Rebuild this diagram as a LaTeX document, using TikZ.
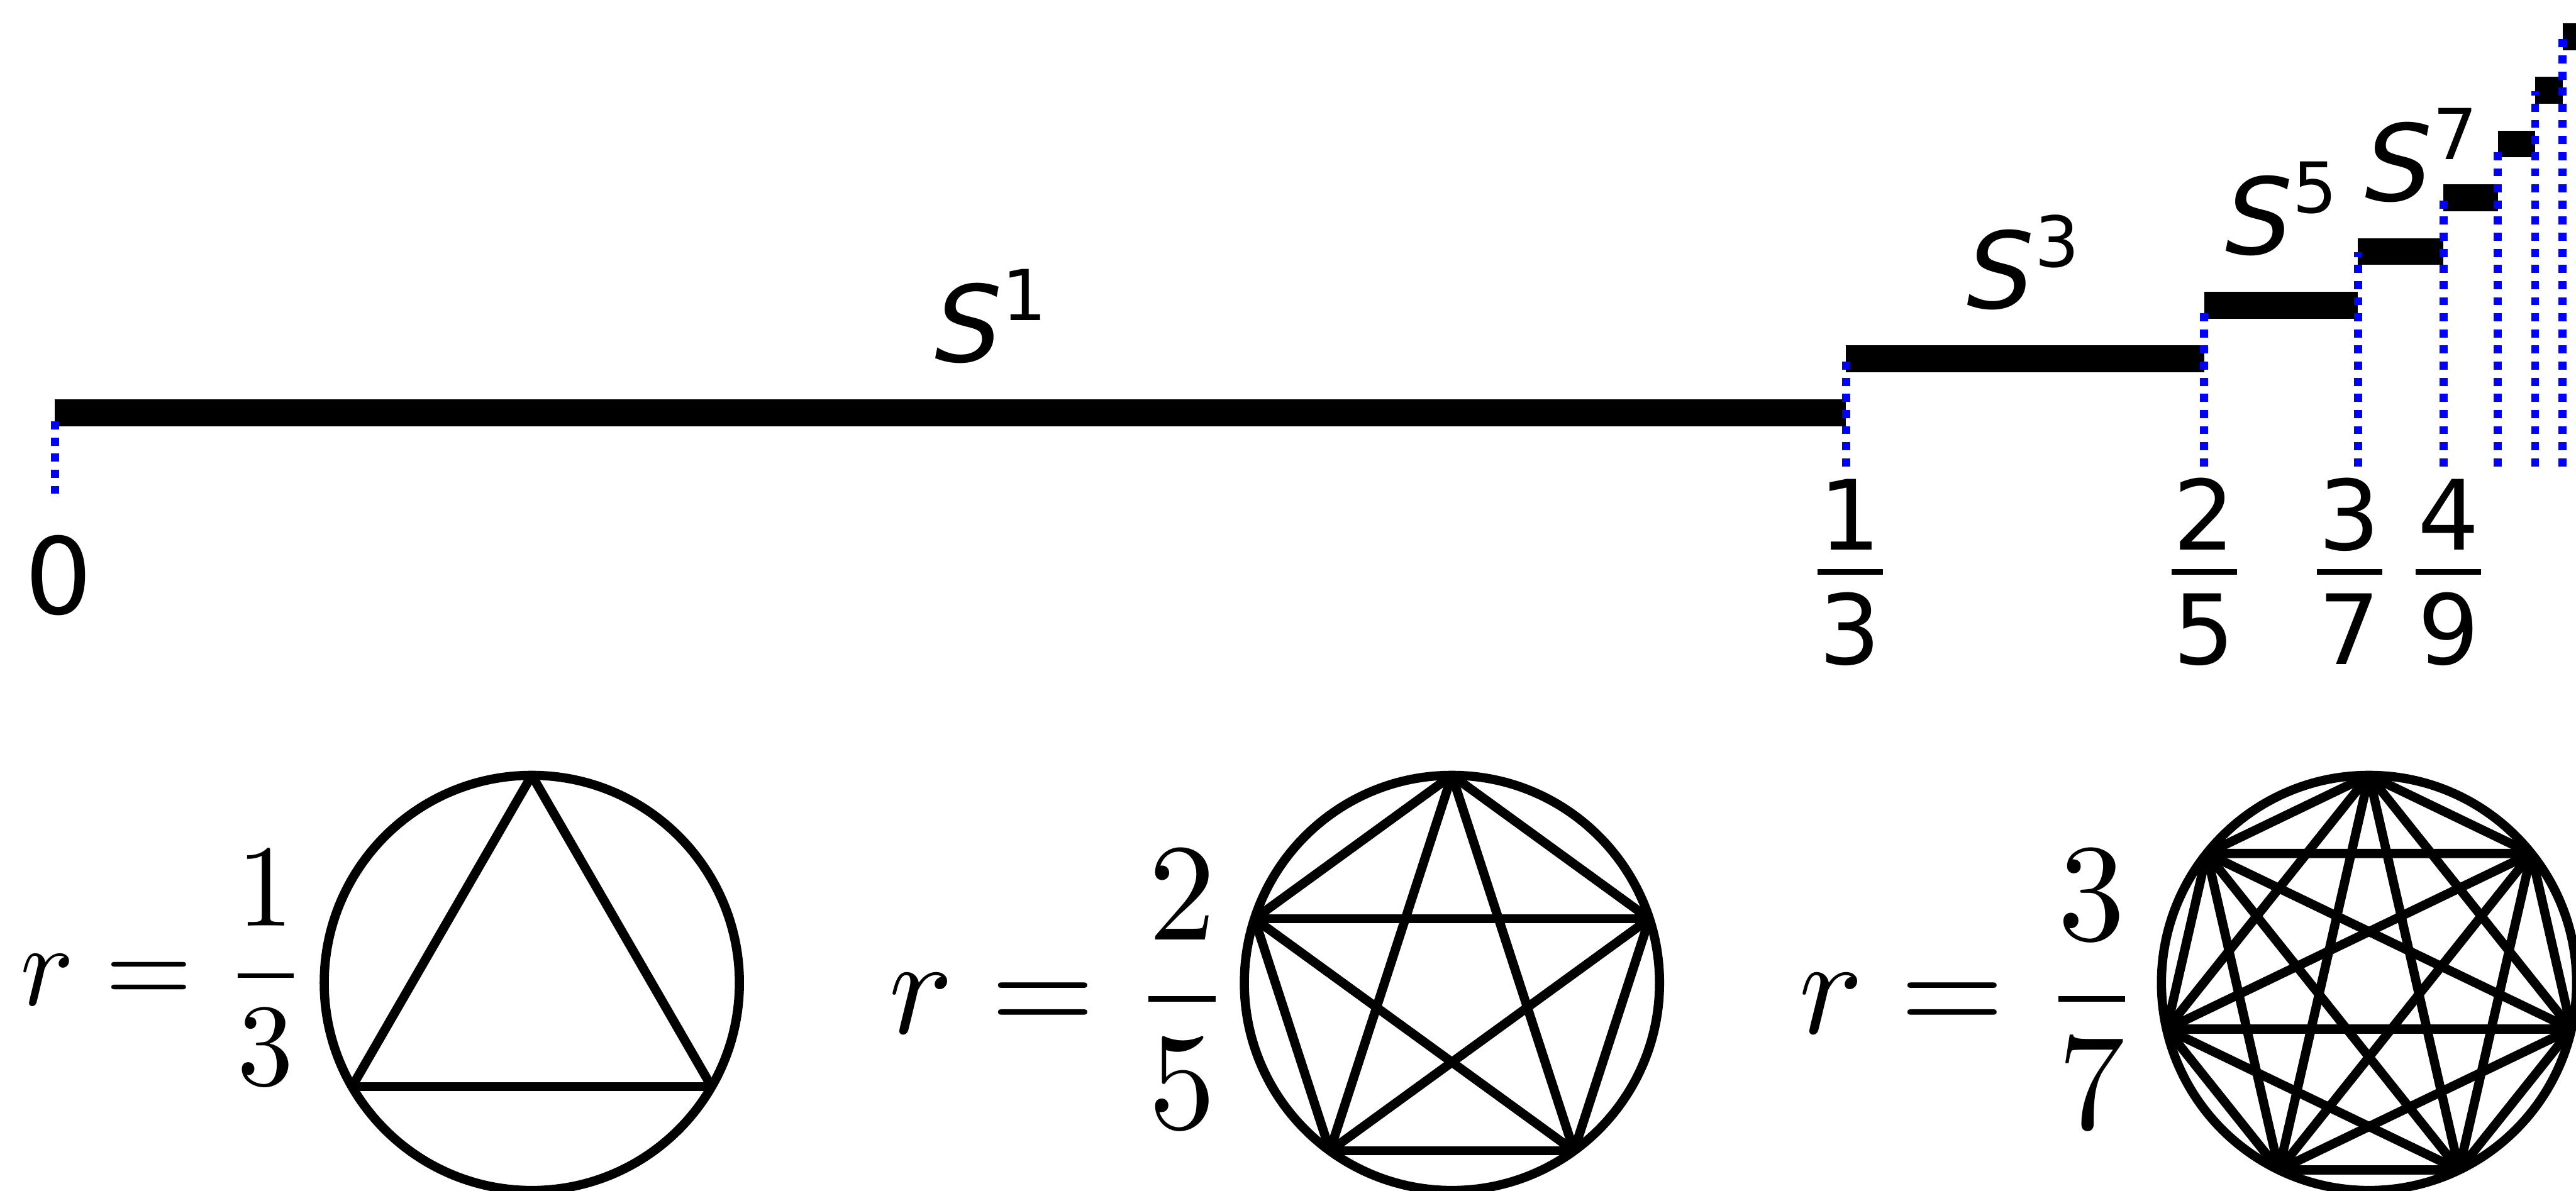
\documentclass[tikz,border=0pt]{standalone}
\usepackage[no-math]{fontspec}
\newfontfamily\labelfont{DejaVu Sans}
\usetikzlibrary{positioning}
\definecolor{tickblue}{RGB}{0,0,255}
\tikzset{
  barline/.style={line width=0.44cm},
  tickline/.style={line width=0.132cm, tickblue, dash pattern=on 0.132cm off 0.132cm},
  chordline/.style={line width=0.15cm},
  spherelabel/.style={anchor=base west, inner sep=0pt},
  fraclabel/.style={anchor=base, inner sep=0pt},
  ratiolabel/.style={anchor=base west, inner sep=0pt}
}
% S^n label and stacked tick fraction
\newcommand{\spheretext}[1]{{\labelfont\fontsize{49.5}{60}\selectfont\itshape S\raisebox{0.68cm}{\upshape\fontsize{32.7}{40}\selectfont #1}}}
\newcommand{\fractext}[2]{\vbox{\hsize=1.07cm\labelfont\fontsize{45.2}{50}\selectfont\hbox to 1.07cm{\hss\smash{#1}\hss}\kern0.31cm\hrule height 0.09cm\kern1.47cm\hbox to 1.07cm{\hss\smash{#2}\hss}}}
% circle with all chords between n points
\newcommand{\chordgraph}[3]{
  \begin{scope}[shift={(#1,#2)}]
  \draw[chordline] (0,0) circle (3.40);
  \foreach \i in {1,...,#3} \coordinate (p\i) at (90+\i*360/#3:3.40);
  \foreach \i in {1,...,#3} \foreach \j in {1,...,#3} {
    \ifnum\i<\j \draw[chordline] (p\i) -- (p\j); \fi
  }
  \end{scope}
}
\begin{document}
\begin{tikzpicture}
\useasboundingbox (0,0) rectangle (42.19,19.50);
\clip (0,0) rectangle (42.19,19.50);
% stairs
\draw[barline] (0.90,12.74) -- (30.235,12.74);
\draw[barline] (30.235,13.62) -- (36.10,13.62);
\draw[barline] (36.10,14.50) -- (38.62,14.50);
\draw[barline] (38.62,15.38) -- (40.02,15.38);
\draw[barline] (40.02,16.26) -- (40.91,16.26);
\draw[barline] (40.91,17.14) -- (41.52,17.14);
\draw[barline] (41.52,18.02) -- (41.97,18.02);
\draw[barline] (41.97,18.90) -- (42.30,18.90);
\draw[tickline] (0.90,11.41) -- (0.90,12.60);
\foreach \x/\ytop in {30.235/13.61, 36.10/14.49, 38.62/15.37, 40.02/16.25, 40.91/17.13, 41.52/18.01, 41.97/18.89}
  \draw[tickline] (\x,11.86) -- (\x,\ytop);
% sphere labels
\node[spherelabel] (s1) at (15.30,13.57) {\spheretext{1}};
\node[spherelabel] (s3) at (32.21,14.45) {\spheretext{3}};
\node[spherelabel] (s5) at (36.44,15.33) {\spheretext{5}};
\node[spherelabel] (s7) at (38.73,16.21) {\spheretext{7}};
% tick labels
\node[anchor=base, inner sep=0pt] (zero) at (0.96,9.44) {\labelfont\fontsize{49.5}{60}\selectfont 0};
\node[fraclabel] (f3) at (30.30,8.62) {\fractext{1}{3}};
\node[fraclabel] (f5) at (36.10,8.62) {\fractext{2}{5}};
\node[fraclabel] (f7) at (38.48,8.62) {\fractext{3}{7}};
\node[fraclabel] (f9) at (40.10,8.62) {\fractext{4}{9}};
% ratios and circles
\node[ratiolabel, xscale=5.23, yscale=5.45] (r3) at (0.30,3.04) {$\displaystyle r=\frac{1}{3}$};
\node[ratiolabel, xscale=6.25, yscale=6.45] (r5) at (14.52,2.57) {$\displaystyle r=\frac{2}{5}$};
\node[ratiolabel, xscale=6.25, yscale=6.45] (r7) at (29.42,2.57) {$\displaystyle r=\frac{3}{7}$};
\chordgraph{8.71}{3.40}{3}
\chordgraph{23.78}{3.40}{5}
\chordgraph{38.80}{3.40}{7}
\end{tikzpicture}
\end{document}
